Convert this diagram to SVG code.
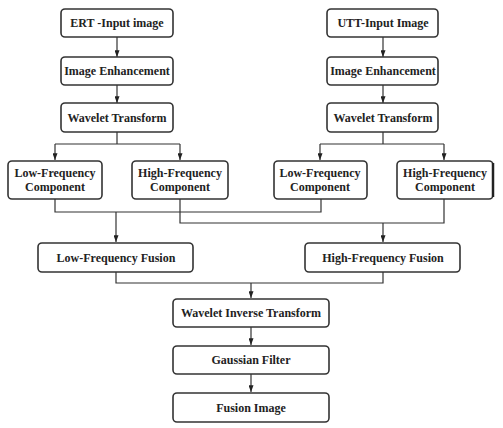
<svg xmlns="http://www.w3.org/2000/svg" width="503" height="428" viewBox="0 0 503 428">
<defs>
<marker id="arr" viewBox="0 0 8 6" refX="8" refY="3" markerWidth="7" markerHeight="5" markerUnits="userSpaceOnUse" orient="auto">
<path d="M0,0 L8,3 L0,6 z" fill="#222"/>
</marker>
<style>
.box{fill:#fff;stroke:#333;stroke-width:1.6}
.t{font-weight:bold;font-size:12px;fill:#222;text-anchor:middle}
.c{fill:none;stroke:#333;stroke-width:1.2}
.a{marker-end:url(#arr)}
</style>
</defs>
<rect width="503" height="428" fill="#fff"/>
<g id="connectors">
<path class="c a" d="M117,37 V57"/>
<path class="c a" d="M117,85 V103"/>
<path class="c" d="M117,132 V144 M55,144 H180"/>
<path class="c a" d="M55,144 V160"/>
<path class="c a" d="M180,144 V160"/>
<path class="c a" d="M383,37 V57"/>
<path class="c a" d="M383,85 V103"/>
<path class="c" d="M383,132 V144 M320,144 H444"/>
<path class="c a" d="M320,144 V160"/>
<path class="c a" d="M444,144 V160"/>
<path class="c" d="M55,199 V212 H321 V199"/>
<path class="c" d="M180,199 V223 H444 V199"/>
<path class="c a" d="M116,212 V242"/>
<path class="c a" d="M383,223 V242"/>
<path class="c" d="M116,272 V283 H383 V272"/>
<path class="c a" d="M251,283 V298"/>
<path class="c a" d="M251,327 V345"/>
<path class="c a" d="M251,374 V392"/>
</g>
<g font-family="'Liberation Serif', 'Times New Roman', serif">
<g id="ert"><rect class="box" x="61" y="9" width="112" height="28" rx="4"/><text class="t" x="117" y="27">ERT -Input image</text></g>
<g id="enh1"><rect class="box" x="61" y="57" width="112" height="28" rx="4"/><text class="t" x="117" y="75">Image Enhancement</text></g>
<g id="wt1"><rect class="box" x="61" y="103" width="112" height="29" rx="4"/><text class="t" x="117" y="122">Wavelet Transform</text></g>
<g id="utt"><rect class="box" x="327" y="9" width="111" height="28" rx="4"/><text class="t" x="383" y="27">UTT-Input Image</text></g>
<g id="enh2"><rect class="box" x="327" y="57" width="111" height="28" rx="4"/><text class="t" x="383" y="75">Image Enhancement</text></g>
<g id="wt2"><rect class="box" x="327" y="103" width="111" height="29" rx="4"/><text class="t" x="383" y="122">Wavelet Transform</text></g>
<g id="lfc1"><rect class="box" x="8" y="161" width="94" height="38" rx="4"/><text class="t" x="55" y="177">Low-Frequency</text><text class="t" x="55" y="191">Component</text></g>
<g id="hfc1"><rect class="box" x="132" y="161" width="96" height="38" rx="4"/><text class="t" x="180" y="177">High-Frequency</text><text class="t" x="180" y="191">Component</text></g>
<g id="lfc2"><rect class="box" x="274" y="161" width="93" height="38" rx="4"/><text class="t" x="320" y="177">Low-Frequency</text><text class="t" x="320" y="191">Component</text></g>
<g id="hfc2"><rect class="box" x="397" y="161" width="96" height="38" rx="4"/><path d="M493,163 V197" stroke="#222" stroke-width="2.5"/><text class="t" x="445" y="177">High-Frequency</text><text class="t" x="445" y="191">Component</text></g>
<g id="lff"><rect class="box" x="38" y="243" width="155" height="29" rx="4"/><text class="t" x="116" y="262">Low-Frequency Fusion</text></g>
<g id="hff"><rect class="box" x="305" y="243" width="155" height="29" rx="4"/><text class="t" x="383" y="262">High-Frequency Fusion</text></g>
<g id="wit"><rect class="box" x="173" y="299" width="156" height="28" rx="4"/><text class="t" x="251" y="317">Wavelet Inverse Transform</text></g>
<g id="gf"><rect class="box" x="173" y="346" width="156" height="28" rx="4"/><text class="t" x="251" y="364">Gaussian Filter</text></g>
<g id="fi"><rect class="box" x="173" y="393" width="156" height="29" rx="4"/><text class="t" x="251" y="412">Fusion Image</text></g>
</g>
</svg>
